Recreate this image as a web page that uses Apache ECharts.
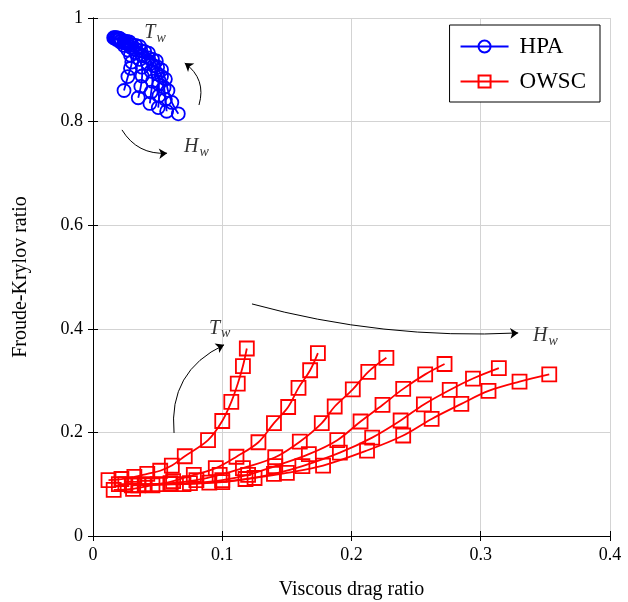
<!DOCTYPE html>
<html><head><meta charset="utf-8">
<script src="https://cdn.jsdelivr.net/npm/echarts@6/dist/echarts.min.js"></script>
<style>html,body{margin:0;padding:0;background:#fff}#c{width:628px;height:602px}</style>
</head><body><div id="c"></div>
<script>
// HPA curves (x = viscous drag ratio, y = Froude-Krylov ratio)
const hpa1 = [[0.024,0.860],[0.027,0.887],[0.029,0.903],[0.030,0.915],[0.029,0.928],[0.027,0.938],[0.024,0.947],[0.021,0.954],[0.018,0.959],[0.016,0.962]];
const hpa2 = [[0.035,0.846],[0.037,0.868],[0.038,0.888],[0.038,0.905],[0.036,0.920],[0.033,0.933],[0.029,0.944],[0.024,0.952],[0.020,0.958],[0.017,0.962]];
const hpa3 = [[0.044,0.835],[0.045,0.857],[0.046,0.878],[0.045,0.897],[0.042,0.913],[0.038,0.927],[0.033,0.940],[0.027,0.950],[0.022,0.957],[0.018,0.962]];
const hpa4 = [[0.0505,0.827],[0.051,0.850],[0.051,0.872],[0.050,0.892],[0.047,0.908],[0.043,0.923],[0.037,0.937],[0.030,0.948],[0.024,0.956],[0.019,0.961]];
const hpa5 = [[0.057,0.820],[0.056,0.843],[0.055,0.866],[0.053,0.887],[0.050,0.905],[0.046,0.920],[0.040,0.935],[0.033,0.947],[0.026,0.955],[0.020,0.961]];
const hpa6 = [[0.066,0.815],[0.061,0.837],[0.058,0.860],[0.056,0.882],[0.053,0.900],[0.049,0.917],[0.043,0.932],[0.036,0.945],[0.028,0.954],[0.021,0.960]];
// OWSC curves
const owsc1 = [[0.012,0.108],[0.022,0.110],[0.032,0.114],[0.042,0.120],[0.052,0.126],[0.061,0.136],[0.071,0.154],[0.089,0.185],[0.100,0.222],[0.107,0.259],[0.112,0.294],[0.116,0.328],[0.119,0.362]];
const owsc2 = [[0.016,0.089],[0.031,0.091],[0.046,0.098],[0.062,0.106],[0.078,0.118],[0.095,0.131],[0.111,0.153],[0.128,0.181],[0.140,0.218],[0.151,0.249],[0.159,0.286],[0.168,0.320],[0.174,0.353]];
const owsc3 = [[0.020,0.100],[0.040,0.100],[0.060,0.102],[0.080,0.108],[0.098,0.118],[0.116,0.131],[0.141,0.152],[0.160,0.182],[0.177,0.218],[0.187,0.250],[0.201,0.283],[0.213,0.317],[0.227,0.344]];
const owsc4 = [[0.025,0.100],[0.050,0.100],[0.075,0.102],[0.100,0.108],[0.120,0.118],[0.141,0.135],[0.167,0.158],[0.189,0.185],[0.207,0.221],[0.224,0.253],[0.240,0.284],[0.257,0.312],[0.272,0.332]];
const owsc5 = [[0.030,0.098],[0.060,0.100],[0.090,0.103],[0.118,0.110],[0.140,0.120],[0.162,0.135],[0.191,0.161],[0.216,0.190],[0.238,0.223],[0.256,0.254],[0.276,0.282],[0.294,0.304],[0.314,0.324]];
const owsc6 = [[0.035,0.098],[0.070,0.100],[0.100,0.104],[0.125,0.112],[0.150,0.122],[0.178,0.136],[0.212,0.165],[0.240,0.194],[0.262,0.226],[0.285,0.255],[0.306,0.280],[0.330,0.298],[0.353,0.312]];
// annotation arrows [from, to] and labels
const arrowTwTop = [[0.082,0.832],[0.071,0.913]];
const arrowHwTop = [[0.0224,0.784],[0.0573,0.739]];
const arrowTwBot = [[0.0627,0.199],[0.1014,0.369]];
const arrowHwBot = [[0.123,0.448],[0.329,0.392]];
const labTwTop = [0.048,0.971];
const labHwTop = [0.080,0.751];
const labTwBot = [0.098,0.400];
const labHwBot = [0.350,0.386];

const SERIF = '"Liberation Serif","DejaVu Serif",serif';
const chart = echarts.init(document.getElementById('c'), null, {renderer:'canvas'});
function lineS(name, data, color, symbol, size){
  return {name, type:'line', data, smooth:0.35, color,
    symbol, symbolSize:size, showSymbol:true,
    lineStyle:{width:1.8,color}, itemStyle:{color:'rgba(255,255,255,0)',borderColor:color,borderWidth:1.8},
    z:3};
}
function arrowS(pts, curv){
  return {type:'lines', coordinateSystem:'cartesian2d', silent:true, z:4,
    symbol:['none','arrow'], symbolSize:8,
    lineStyle:{color:'#000',width:1,curveness:curv,opacity:1},
    data:[{coords:pts}]};
}
function mathLab(pos, letter){
  return {type:'scatter', silent:true, symbolSize:0, z:5, data:[pos],
    label:{show:true, position:'inside', formatter:'{t|'+letter+'}{s|w}',
      rich:{t:{fontFamily:SERIF,fontStyle:'italic',fontSize:20,color:'#000'},
            s:{fontFamily:SERIF,fontStyle:'italic',fontSize:14,color:'#000',padding:[10,0,0,1]}}}};
}
const series = [
  lineS('HPA', hpa1, '#0000ff', 'circle', 13),
  lineS('HPA', hpa2, '#0000ff', 'circle', 13),
  lineS('HPA', hpa3, '#0000ff', 'circle', 13),
  lineS('HPA', hpa4, '#0000ff', 'circle', 13),
  lineS('HPA', hpa5, '#0000ff', 'circle', 13),
  lineS('HPA', hpa6, '#0000ff', 'circle', 13),
  lineS('OWSC', owsc1, '#ff0000', 'rect', 14),
  lineS('OWSC', owsc2, '#ff0000', 'rect', 14),
  lineS('OWSC', owsc3, '#ff0000', 'rect', 14),
  lineS('OWSC', owsc4, '#ff0000', 'rect', 14),
  lineS('OWSC', owsc5, '#ff0000', 'rect', 14),
  lineS('OWSC', owsc6, '#ff0000', 'rect', 14),
  arrowS(arrowTwTop, -0.35),
  arrowS(arrowHwTop, -0.3),
  arrowS(arrowTwBot, 0.35),
  arrowS(arrowHwBot, -0.08),
  mathLab(labTwTop,'T'), mathLab(labHwTop,'H'), mathLab(labTwBot,'T'), mathLab(labHwBot,'H')
];
const axBase = {type:'value', splitLine:{show:false}, axisLine:{show:true,lineStyle:{color:'#000',width:1}},
  axisTick:{show:true,inside:true,length:5,lineStyle:{color:'#000'}}};
chart.setOption({
  animation:false,
  backgroundColor:'#fff',
  grid:{left:93,right:18,top:18,bottom:66,show:false,containLabel:false,outerBoundsMode:'none'},
  legend:{data:['HPA','OWSC'], orient:'vertical', right:28, top:25,
    borderColor:'#000', borderWidth:1, padding:[10,14,9,10], itemGap:12,
    itemWidth:48, itemHeight:15, textStyle:{fontFamily:SERIF,fontSize:23,color:'#000',padding:[0,0,0,6]},
    backgroundColor:'#fff'},
  xAxis:[
    Object.assign({}, axBase, {min:0,max:0.4,interval:0.1,position:'bottom',
      name:'Viscous drag ratio', nameLocation:'middle', nameGap:44,
      nameTextStyle:{fontFamily:SERIF,fontSize:20,color:'#000'},
      axisLabel:{fontFamily:SERIF,fontSize:18,color:'#000',margin:10},
      splitLine:{show:true,lineStyle:{color:'#d3d3d3',width:1}}}),
    Object.assign({}, axBase, {min:0,max:0.4,interval:0.1,position:'top',axisLabel:{show:false}})
  ],
  yAxis:[
    Object.assign({}, axBase, {min:0,max:1,interval:0.2,position:'left',
      name:'Froude-Krylov ratio', nameLocation:'middle', nameGap:62,
      nameTextStyle:{fontFamily:SERIF,fontSize:20,color:'#000'},
      axisLabel:{fontFamily:SERIF,fontSize:18,color:'#000',margin:10},
      splitLine:{show:true,lineStyle:{color:'#d3d3d3',width:1}}}),
    Object.assign({}, axBase, {min:0,max:1,interval:0.2,position:'right',axisLabel:{show:false}})
  ],
  series
});
</script></body></html>
